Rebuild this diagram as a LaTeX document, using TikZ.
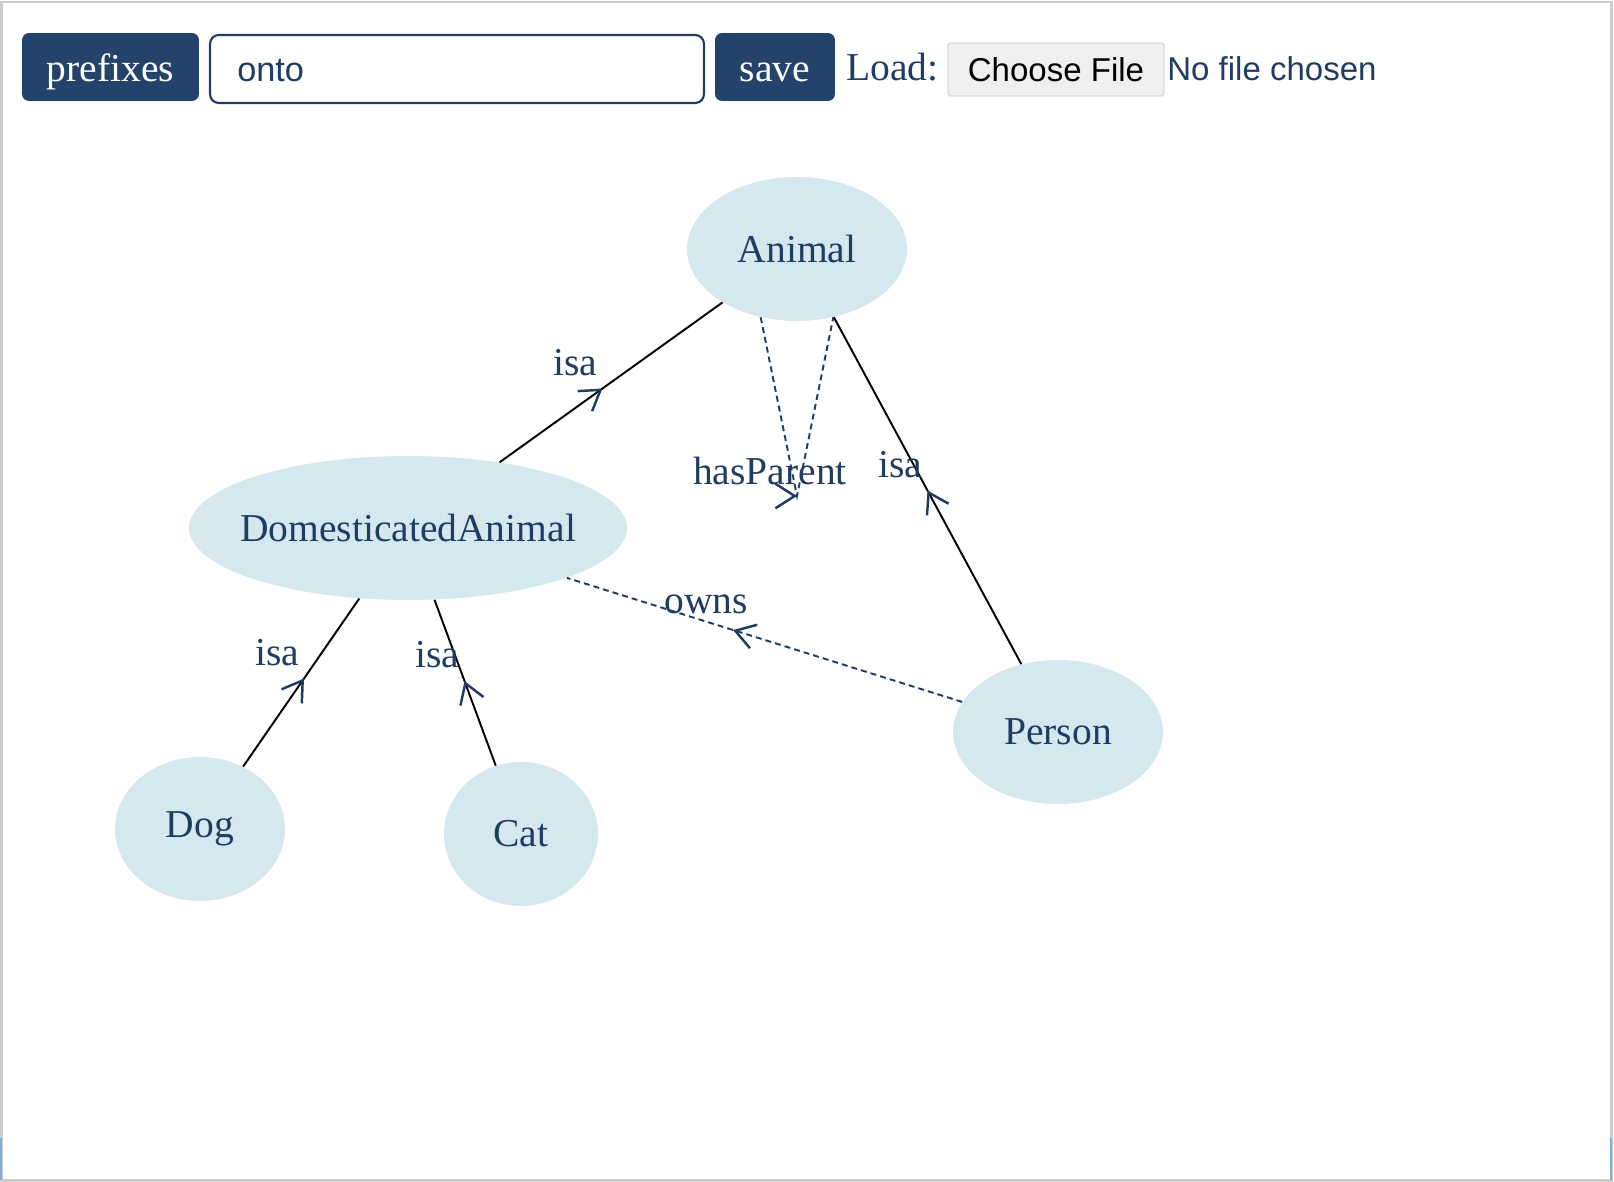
\documentclass[tikz,border=0pt]{standalone}
\usepackage{fontspec}
\setmainfont{Liberation Serif}
\newfontfamily\uisans{Liberation Sans}
\usetikzlibrary{arrows.meta, positioning, shapes.geometric, calc, decorations.markings}
\definecolor{ontonavy}{HTML}{1F3D63}
\definecolor{btnnavy}{HTML}{24436A}
\definecolor{classfill}{HTML}{D5E8EF}
\definecolor{framegray}{HTML}{CCCCCC}
\definecolor{filegray}{HTML}{EFEFEF}
\definecolor{fileedge}{HTML}{C2C2C2}
\definecolor{scrollblue}{HTML}{7FAEDB}

\begin{document}
\begin{tikzpicture}[
    x=0.02cm, y=-0.02cm,
    cls/.style={ellipse, fill=classfill, inner sep=0pt, minimum height=2.88cm, text=ontonavy, font=\fontsize{22.5}{27}\selectfont},
    btn/.style={rounded corners=4pt, fill=btnnavy, text=white, minimum height=1.36cm, inner sep=0pt, text height=17pt, text depth=0pt, font=\fontsize{22.5}{27}\selectfont},
    isaedge/.style={draw=black, line width=1.1pt},
    reledge/.style={draw=ontonavy, line width=1.1pt, dash pattern=on 3.4pt off 2.3pt},
    midtip/.style={decoration={markings, mark=at position #1 with {\arrow[ontonavy]{Straight Barb[length=11pt, width=14pt, line width=1.4pt]}}}, postaction=decorate},
    midtip/.default=0.5,
    lbl/.style={text=ontonavy, font=\fontsize{22.5}{27}\selectfont, inner sep=0pt},
]
\useasboundingbox (0,0) rectangle (1614,1182);

% Page frame
\draw[framegray, line width=1.2pt] (1.5,2) rectangle (1611.5,1180.5);
\draw[scrollblue, line width=1pt] (1,1138) -- (1,1180);
\draw[scrollblue, line width=1pt] (1611,1138) -- (1611,1180);

% Tool bar
\node[btn, minimum width=3.54cm] (prefixes) at (110.5,67) {prefixes};
\node[draw=ontonavy, line width=1.2pt, rounded corners=5pt, minimum width=9.88cm, minimum height=1.36cm] (fname) at (457,69) {};
\node[anchor=base west, inner sep=0pt, text=ontonavy, font=\uisans\fontsize{19.5}{23}\selectfont] (fnametext) at (237,82) {onto};
\node[btn, minimum width=2.4cm] (save) at (775,67) {save};
\node[lbl, anchor=base west] (load) at (846,81) {Load:};
\node[draw=fileedge, fill=filegray, rounded corners=1pt, minimum width=4.32cm, minimum height=1.06cm, inner sep=0pt, font=\uisans\fontsize{18.8}{22}\selectfont] (choose) at (1056,69.5) {Choose File};
\node[anchor=west, inner sep=0pt, text=ontonavy, font=\uisans\fontsize{18.8}{22}\selectfont] (nofile) at (1167,69) {No file chosen};

% Classes
\node[cls, minimum width=4.4cm] (animal) at (797,249) {Animal};
\node[cls, minimum width=8.76cm, inner xsep=-0.35cm] (domestic) at (408,528) {DomesticatedAnimal};
\node[cls, minimum width=3.4cm] (dog) at (200,829) {Dog};
\node[cls, minimum width=3.08cm] (cat) at (521,834) {Cat};
\node[cls, minimum width=4.2cm] (person) at (1058,732) {Person};
\coordinate (loop) at (797,496);

% isa edges
\draw[isaedge] (domestic) -- (animal);
\draw[isaedge] (dog) -- (domestic);
\draw[isaedge] (cat) -- (domestic);
\draw[isaedge] (person) -- (animal);

% Object properties
\draw[reledge] (person) -- (domestic);
\draw[reledge] (animal.-118) -- (loop) -- (animal.-62);

% Arrow heads half way between centres
\path[midtip] (domestic.center) -- (animal.center);
\path[midtip] (dog.center) -- (domestic.center);
\path[midtip] (cat.center) -- (domestic.center);
\path[midtip] (person.center) -- (animal.center);
\path[midtip] (person.center) -- (domestic.center);
\path[midtip=1] ([xshift=-0.3cm]loop) -- (loop);

% Edge labels
\node[lbl] (isa1) at ($(domestic)!0.5!(animal)+(-27,-26)$) {isa};
\node[lbl] (isa2) at ($(dog)!0.5!(domestic)+(-27,-26)$) {isa};
\node[lbl] (isa3) at ($(cat)!0.5!(domestic)+(-27,-26)$) {isa};
\node[lbl] (isa4) at ($(person)!0.5!(animal)+(-27,-26)$) {isa};
\node[lbl] (owns) at ($(person)!0.5!(domestic)+(-27,-26)$) {owns};
\node[lbl] (hasparent) at ($(loop)+(-27,-25)$) {hasParent};

\end{tikzpicture}
\end{document}
